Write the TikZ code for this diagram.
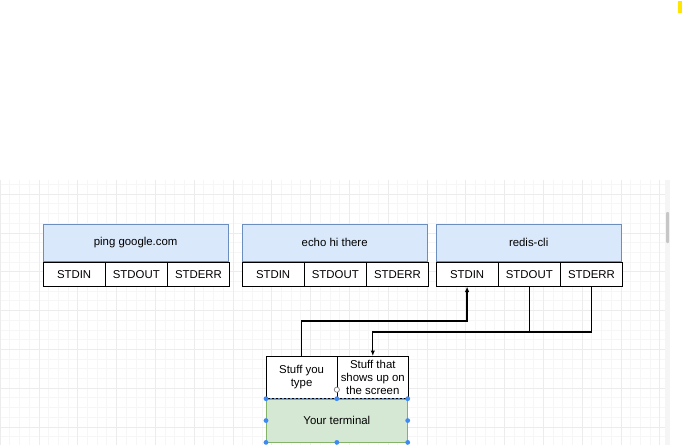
\documentclass[tikz,border=0pt]{standalone}
\usepackage{fontspec}
\setmainfont{Liberation Sans}
\usepackage{tikz}
\tikzset{>=latex}
\usetikzlibrary{positioning, arrows.meta}

\definecolor{hdrfill}{HTML}{DAE8FC}
\definecolor{hdrline}{HTML}{6C8EBF}
\definecolor{termfill}{HTML}{D5E8D4}
\definecolor{termline}{HTML}{82B366}
\definecolor{handle}{HTML}{3D8AF7}
\definecolor{gridminor}{HTML}{F6F6F6}
\definecolor{gridmajor}{HTML}{ECECEC}
\definecolor{marker}{HTML}{FFE600}

\tikzset{
  lbl/.style={font=\fontsize{11.4}{13.3}\selectfont},
  hdr/.style={lbl, draw=hdrline, fill=hdrfill, line width=0.8pt, minimum width=184.5pt, minimum height=37pt, inner sep=0pt, anchor=north west},
  cell/.style={lbl, draw=black, fill=white, line width=0.7pt, minimum width=61.5pt, minimum height=24pt, inner sep=0pt, anchor=north west},
  part/.style={lbl, draw=black, fill=white, line width=0.7pt, minimum width=70.5pt, minimum height=42pt, inner sep=0pt, align=center, anchor=north west},
  wire/.style={line width=1.3pt},
}

\begin{document}
\begin{tikzpicture}[x=1pt, y=-1pt]
\useasboundingbox (0,0) rectangle (683,445);

% grid of the canvas
\begin{scope}
  \clip (0,180) rectangle (665,445);
  \draw[gridminor, line width=0.5pt, step=9.7pt] (0,180) grid (665,445);
  \draw[gridmajor, line width=0.5pt, step=38.8pt] (0,180) grid (665,445);
\end{scope}
\fill[gray!8] (665,180) rectangle (670,445);
\fill[gray!45, rounded corners=1pt] (666,212) rectangle (669,243);
\fill[marker] (678,1) rectangle (682,13);

% the three programs
\foreach \bx/\nm/\txt in {43/1/ping google.com, 242/2/echo hi there, 436/3/redis-cli}{
    \node[hdr] (hdr\nm) at (\bx,224) {\txt};
    \node[cell] (in\nm) at (hdr\nm.south west) {STDIN};
    \node[cell] (out\nm) at (in\nm.north east) {STDOUT};
    \node[cell] (err\nm) at (out\nm.north east) {STDERR};
}

% the terminal
\node[part] (you) at (266,356) {Stuff you\\type};
\node[part] (screen) at (you.north east) {Stuff that\\shows up on\\the screen};
\node[lbl, draw=termline, fill=termfill, line width=0.7pt, minimum width=141pt, minimum height=43pt, inner sep=0pt, anchor=north west] (term) at (you.south west) {Your terminal};

\coordinate (upturn) at (in3.south |- 0,321);
\coordinate (merge) at (screen.north |- 0,332);

\draw[wire, -{Latex[length=5.5pt,width=4.5pt]}] (you.north) |- (upturn) -- (in3.south);
\draw[wire, -{Latex[length=5.5pt,width=4.5pt]}] (err3.south) |- (merge) -- (screen.north);
\draw[wire] (out3.south) -- (out3.south |- merge);

% selection handles
\draw[hdrline, line width=0.6pt, dash pattern=on 2pt off 2pt] (term.north west) -- (term.north east);
\foreach \anc in {north west, north, north east, west, east, south west, south, south east}{
    \fill[handle] (term.\anc) circle (2.4pt);
}
\draw[gray, line width=0.7pt, fill=white] ([yshift=9pt]term.north) circle (2.6pt);

\end{tikzpicture}
\end{document}
